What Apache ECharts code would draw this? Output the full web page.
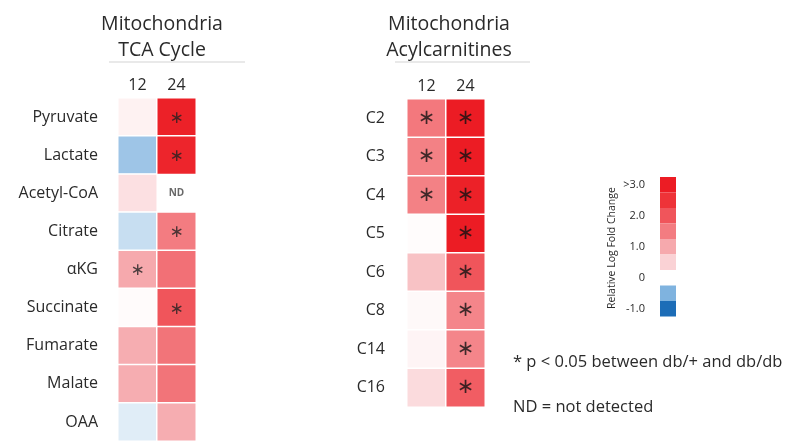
<!DOCTYPE html>
<html>
<head>
<meta charset="utf-8">
<script src="https://cdn.jsdelivr.net/npm/echarts@6/dist/echarts.min.js"></script>
<style>
  html, body { margin: 0; padding: 0; background: #fff; }
  #chart { width: 803px; height: 441px; }
</style>
</head>
<body>
<div id="chart"></div>
<script>
// columns (hours)
const hours = ['12', '24'];

// TCA cycle panel
const tcaRows = ['Pyruvate', 'Lactate', 'Acetyl-CoA', 'Citrate', 'αKG', 'Succinate', 'Fumarate', 'Malate', 'OAA'];
const tca12 = [0.15, -0.38, 0.35, -0.22, 1.0, 0.05, 0.95, 0.95, -0.12];
const tca24 = [2.9, 2.8, null, 1.5, 1.65, 2.0, 1.6, 1.6, 0.95];
const tcaMark12 = ['', '', '', '', '*', '', '', '', ''];
const tcaMark24 = ['*', '*', 'ND', '*', '', '*', '', '', ''];

// acylcarnitine panel
const acylRows = ['C2', 'C3', 'C4', 'C5', 'C6', 'C8', 'C14', 'C16'];
const acyl12 = [1.55, 1.45, 1.45, 0.03, 0.7, 0.07, 0.12, 0.4];
const acyl24 = [3.2, 3.2, 2.9, 3.1, 2.0, 1.4, 1.4, 1.9];
const acylMark12 = ['*', '*', '*', '', '', '', '', ''];
const acylMark24 = ['*', '*', '*', '*', '*', '*', '*', '*'];

// colour scale, -1.0 .. >3.0
const scaleMin = -1;
const scaleMax = 3;
const scaleColors = ['#1d6db7', '#7fb3df', '#ffffff', '#fad2d5', '#f6a9ad', '#f37c81', '#f0555b', '#ee3338', '#ec1c24'];
const legendTicks = ['>3.0', '2.0', '1.0', '0', '-1.0'];

function cells(v12, v24) {
  const out = [];
  v12.forEach((v, i) => out.push([0, i, v]));
  v24.forEach((v, i) => { if (v !== null) out.push([1, i, v]); });
  return out;
}
function marks(m12, m24) {
  const out = [];
  m12.forEach((m, i) => { if (m) out.push([0, i, m]); });
  m24.forEach((m, i) => { if (m) out.push([1, i, m]); });
  return out;
}

const font = 'Open Sans';
const txt = '#2a2a2a';

const chart = echarts.init(document.getElementById('chart'), null, { renderer: 'canvas' });

// legend blocks, top (high) to bottom (low)
const legendGraphic = [];
const legendColors = scaleColors.slice().reverse();
legendColors.forEach((c, i) => {
  legendGraphic.push({
    type: 'rect', left: 660, top: 177 + i * 15.5,
    shape: { width: 16, height: 15.5 },
    style: { fill: c }
  });
});
const tickRows = [0, 2, 4, 6, 8];
legendTicks.forEach((t, i) => {
  legendGraphic.push({
    type: 'text', x: 645, y: 177 + tickRows[i] * 15.5 + 8,
    style: { text: t, fill: txt, font: '11px ' + font, align: 'right', verticalAlign: 'middle' }
  });
});
legendGraphic.push({
  type: 'text', x: 612, y: 248, rotation: Math.PI / 2,
  style: { text: 'Relative Log Fold Change', fill: txt, font: '10.5px ' + font, align: 'center', verticalAlign: 'middle' }
});

const titleStyle = { fontFamily: font, fontSize: 19.5, fontWeight: 'normal', color: txt, lineHeight: 26 };

const option = {
  animation: false,
  backgroundColor: '#fff',
  title: [
    { text: 'Mitochondria\nTCA Cycle', left: 157, top: 6, textAlign: 'center', textStyle: titleStyle },
    { text: 'Mitochondria\nAcylcarnitines', left: 444, top: 6, textAlign: 'center', textStyle: titleStyle }
  ],
  grid: [
    { left: 118, top: 98, width: 78, height: 9 * 38.5 },
    { left: 407, top: 99, width: 78, height: 8 * 38.5 }
  ],
  xAxis: [0, 1].map(g => ({
    type: 'category', gridIndex: g, data: hours, position: 'top',
    axisLine: { show: false }, axisTick: { show: false }, splitLine: { show: false },
    axisLabel: { color: txt, fontFamily: font, fontSize: 16, margin: 5 }
  })),
  yAxis: [
    {
      type: 'category', gridIndex: 0, data: tcaRows, inverse: true,
      axisLine: { show: false }, axisTick: { show: false },
      axisLabel: { color: txt, fontFamily: font, fontSize: 16, margin: 20 }
    },
    {
      type: 'category', gridIndex: 1, data: acylRows, inverse: true,
      axisLine: { show: false }, axisTick: { show: false },
      axisLabel: { color: txt, fontFamily: font, fontSize: 16, margin: 22 }
    }
  ],
  visualMap: {
    type: 'continuous', show: false, min: scaleMin, max: scaleMax,
    seriesIndex: [0, 1], dimension: 2,
    inRange: { color: scaleColors }
  },
  series: [
    {
      type: 'heatmap', xAxisIndex: 0, yAxisIndex: 0, data: cells(tca12, tca24),
      itemStyle: { borderColor: '#fff', borderWidth: 1.5 }
    },
    {
      type: 'heatmap', xAxisIndex: 1, yAxisIndex: 1, data: cells(acyl12, acyl24),
      itemStyle: { borderColor: '#fff', borderWidth: 1.5 }
    },
    {
      type: 'scatter', xAxisIndex: 0, yAxisIndex: 0, data: marks(tcaMark12, tcaMark24),
      symbolSize: 1, itemStyle: { color: 'rgba(0,0,0,0)' },
      label: {
        show: true, position: 'inside',
        formatter: p => p.data[2] === '*' ? '{s|∗}' : '{n|ND}',
        rich: {
          s: { fontFamily: 'DejaVu Sans', fontSize: 17, color: '#222', padding: [3, 0, 0, 0] },
          n: { fontFamily: font, fontSize: 10, fontWeight: 'bold', color: '#444' }
        }
      }
    },
    {
      type: 'scatter', xAxisIndex: 1, yAxisIndex: 1, data: marks(acylMark12, acylMark24),
      symbolSize: 1, itemStyle: { color: 'rgba(0,0,0,0)' },
      label: {
        show: true, position: 'inside',
        formatter: () => '∗',
        fontFamily: 'DejaVu Sans', fontSize: 21, color: '#111'
      }
    }
  ],
  graphic: [
    { type: 'line', shape: { x1: 109, y1: 62, x2: 245, y2: 62 }, style: { stroke: '#e2e2e2', lineWidth: 1.5 } },
    { type: 'line', shape: { x1: 395, y1: 62, x2: 530, y2: 62 }, style: { stroke: '#e2e2e2', lineWidth: 1.5 } },
    { type: 'text', x: 513, y: 362, style: { text: '* p < 0.05 between db/+ and db/db', fill: txt, font: '16.5px ' + font, verticalAlign: 'middle' } },
    { type: 'text', x: 513, y: 407, style: { text: 'ND = not detected', fill: txt, font: '16.5px ' + font, verticalAlign: 'middle' } }
  ].concat(legendGraphic)
};

chart.setOption(option);
</script>
</body>
</html>
